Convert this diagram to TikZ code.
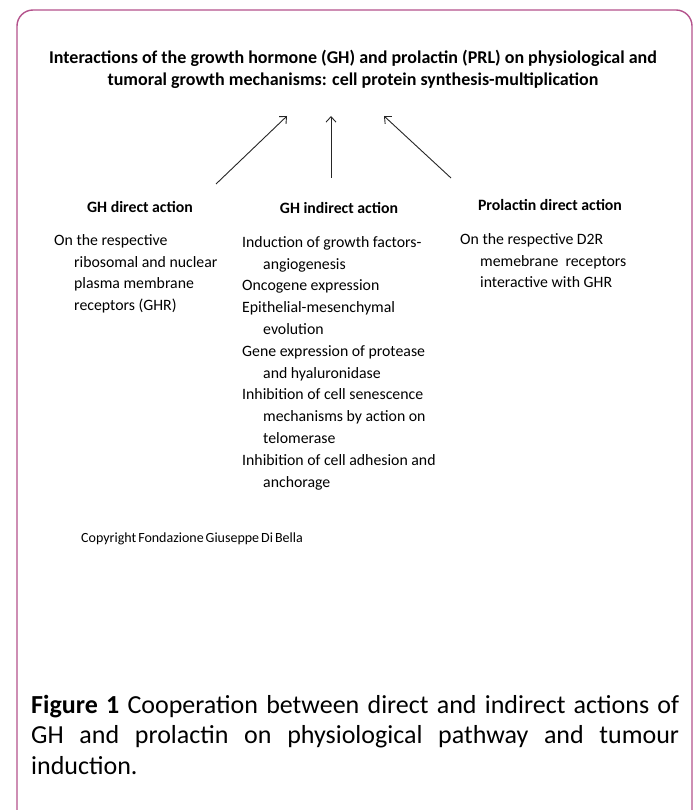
\documentclass[tikz,border=0pt]{standalone}
\usepackage{fontspec}
\setmainfont{Carlito}
\usetikzlibrary{arrows.meta}
\definecolor{framecol}{RGB}{180,82,140}
\begin{document}
\begin{tikzpicture}[x=1pt,y=-1pt,
  arr/.style={draw=black!85,line width=0.9pt,-{Straight Barb[length=5.5pt,width=10pt]}},
  head/.style={font=\bfseries\fontsize{15.8}{19}\selectfont,inner sep=0,anchor=base},
  body/.style={font=\fontsize{15.8}{21.8}\selectfont,inner sep=0,anchor=north west,align=left},
  titlestyle/.style={font=\bfseries\fontsize{18}{22.5}\selectfont,inner sep=0,anchor=north,align=center},
  ]
\useasboundingbox (0,0) rectangle (695,810);
\fill[white] (0,0) rectangle (695,810);
\draw[framecol,line width=1.4pt,rounded corners=16pt] (17,815) |- (692,10) -- (692,815);

\node[titlestyle] (title) at (353,48) {\rule{0pt}{15pt}Interactions of the growth hormone (GH) and prolactin (PRL) on physiological and\\tumoral growth mechanisms: cell protein synthesis-multiplication};

\coordinate (a1s) at (216,184); \coordinate (a1e) at (287,116);
\coordinate (a2s) at (331,178); \coordinate (a2e) at (331,116);
\coordinate (a3s) at (451,178); \coordinate (a3e) at (384,116);
\draw[arr] (a1s) -- (a1e);
\draw[arr] (a2s) -- (a2e);
\draw[arr] (a3s) -- (a3e);

\node[head] (h1) at (140,212) {GH direct action};
\node[head] (h2) at (339,214) {GH indirect action};
\node[head] (h3) at (550,211) {Prolactin direct action};

\node[body] (c1) at (54,231) {\rule{0pt}{14pt}On the respective\\
\hspace*{20pt}ribosomal and nuclear\\
\hspace*{20pt}plasma membrane\\
\hspace*{20pt}receptors (GHR)};

\node[body] (c2) at (242,233) {\rule{0pt}{14pt}Induction of growth factors-\\
\hspace*{21pt}angiogenesis\\
Oncogene expression\\
Epithelial-mesenchymal\\
\hspace*{21pt}evolution\\
Gene expression of protease\\
\hspace*{21pt}and hyaluronidase\\
Inhibition of cell senescence\\
\hspace*{21pt}mechanisms by action on\\
\hspace*{21pt}telomerase\\
Inhibition of cell adhesion and\\
\hspace*{21pt}anchorage};

\node[body] (c3) at (460,230) {\rule{0pt}{14pt}On the respective D2R\\
\hspace*{20pt}memebrane\ \ receptors\\
\hspace*{20pt}interactive with GHR};

\node[inner sep=0,anchor=base west,font=\fontsize{14}{17}\selectfont] (copy) at (81,542) {\spaceskip=2pt Copyright Fondazione Giuseppe Di Bella};

\node[inner sep=0,anchor=north west,text width=648pt,align=justify,font=\fontsize{26}{30.5}\selectfont] (cap) at (31,692) {\rule{0pt}{21pt}\textbf{Figure 1} Cooperation between direct and indirect actions of\linebreak GH and prolactin on physiological pathway and tumour\linebreak induction.};
\end{tikzpicture}
\end{document}
